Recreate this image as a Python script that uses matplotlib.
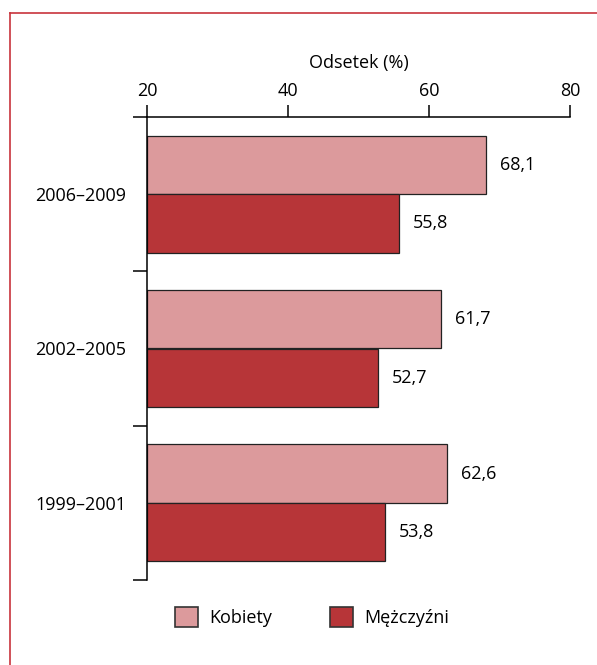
import numpy as np
import matplotlib
matplotlib.use("Agg")
import matplotlib.pyplot as plt
from matplotlib.patches import Patch
from matplotlib.lines import Line2D

plt.rcParams["font.family"] = ["Open Sans", "DejaVu Sans"]

# data (bottom to top)
periods = ["1999–2001", "2002–2005", "2006–2009"]
kobiety = [62.6, 61.7, 68.1]
mezczyzni = [53.8, 52.7, 55.8]
seriesNames = ["Kobiety", "Mężczyźni"]
xTicks = [20, 40, 60, 80]

COLOR_K = "#DC9A9C"
COLOR_M = "#B73538"
EDGE = "#222222"
FS = 13

W, H = 597, 665
fig = plt.figure(figsize=(W / 100, H / 100), dpi=100)
ax = fig.add_axes([147 / W, (H - 580) / H, 423 / W, 463 / H])

y = np.arange(len(periods)) + 0.5
barH = 0.38
ax.barh(y + barH / 2, np.array(kobiety) - 20, left=20, height=barH, color=COLOR_K,
        edgecolor=EDGE, linewidth=0.9)
ax.barh(y - barH / 2, np.array(mezczyzni) - 20, left=20, height=barH, color=COLOR_M,
        edgecolor=EDGE, linewidth=0.9)

for yi, v in zip(y + barH / 2, kobiety):
    ax.annotate(f"{v:.1f}".replace(".", ","), (v, yi), xytext=(10, 0), textcoords="offset points",
                ha="left", va="center", fontsize=FS)
for yi, v in zip(y - barH / 2, mezczyzni):
    ax.annotate(f"{v:.1f}".replace(".", ","), (v, yi), xytext=(10, 0), textcoords="offset points",
                ha="left", va="center", fontsize=FS)

ax.set_xlim(20, 80)
ax.set_ylim(0, len(periods))
for s in ["right", "bottom"]:
    ax.spines[s].set_visible(False)
for s in ["top", "left"]:
    ax.spines[s].set_linewidth(1.1)

ax.xaxis.tick_top()
ax.xaxis.set_label_position("top")
ax.set_xticks(xTicks)
ax.set_xticklabels([str(t) for t in xTicks], fontsize=FS)
ax.tick_params(axis="x", direction="out", length=9, width=1.1, pad=3)
ax.set_xlabel("Odsetek (%)", fontsize=FS, labelpad=10)

ax.set_yticks(np.arange(len(periods) + 1))
ax.set_yticklabels([])
ax.tick_params(axis="y", which="major", direction="out", length=10, width=1.1)
ax.set_yticks(y, minor=True)
ax.set_yticklabels(periods, minor=True, fontsize=FS)
ax.tick_params(axis="y", which="minor", length=0, pad=15)

handles = [Patch(facecolor=COLOR_K, edgecolor="#333333", linewidth=1.2),
           Patch(facecolor=COLOR_M, edgecolor="#333333", linewidth=1.2)]
fig.legend(handles, seriesNames, loc="center", bbox_to_anchor=(312 / W, (H - 617) / H),
           ncol=2, frameon=False, fontsize=FS, handlelength=1.3, handleheight=1.35,
           handletextpad=0.6, columnspacing=3.2)

# red frame (top and left edges)
fig.add_artist(Line2D([10 / W, 1], [(H - 13) / H, (H - 13) / H], color="#C8343C", linewidth=1.2))
fig.add_artist(Line2D([10 / W, 10 / W], [0, (H - 13) / H], color="#C8343C", linewidth=1.2))

fig.savefig("out.png", dpi=100)
